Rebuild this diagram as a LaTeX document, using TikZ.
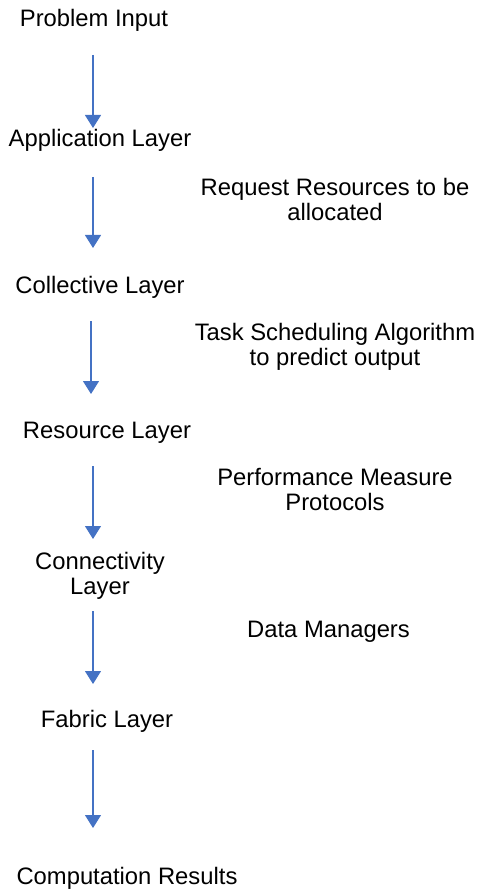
\documentclass[tikz,border=0pt]{standalone}
\usepackage{fontspec}
\setmainfont{Liberation Sans}
\usetikzlibrary{arrows.meta,calc}
\definecolor{arrowblue}{HTML}{4472C4}
\begin{document}
\begin{tikzpicture}[x=1pt,y=-1pt,
  lbl/.style={inner sep=0pt,anchor=base,align=center,font=\fontsize{23.8}{25}\selectfont},
  arr/.style={draw=arrowblue,line width=1.1pt,-{Triangle[width=16pt,length=13pt,fill=arrowblue]}}]
\useasboundingbox (0,0) rectangle (478,890);
\coordinate (ax) at (93,0);
\node[lbl] (pi)  at (94,27)  {Problem Input};
\node[lbl] (app) at (100,147) {Application Layer};
\node[lbl] (req) at (335,221) {Request Resources to be\\allocated};
\node[lbl] (col) at (100,293) {Collective Layer};
\node[lbl] (tsk) at (335,365) {Task Scheduling Algorithm\\to predict output};
\node[lbl] (res) at (107,438) {Resource Layer};
\node[lbl] (prf) at (335,510) {Performance Measure\\Protocols};
\node[lbl] (con) at (100,594) {Connectivity\\Layer};
\node[lbl] (dat) at (328.5,637) {Data Managers};
\node[lbl] (fab) at (107,727) {Fabric Layer};
\node[lbl] (cmp) at (127,884) {Computation Results};
\draw[arr] ($(pi.base -| ax)+(0,28)$) -- ($(app.base -| ax)+(0,-19)$);
\draw[arr] ($(app.base -| ax)+(0,30)$) -- ($(col.base -| ax)+(0,-45)$);
\draw[arr] ($(col.base -| ax)+(-2,28)$) -- ($(res.base -| ax)+(-2,-44)$);
\draw[arr] ($(res.base -| ax)+(0,28)$) -- ($(con.base -| ax)+(0,-55)$);
\draw[arr] ($(con.base -| ax)+(0,17)$) -- ($(fab.base -| ax)+(0,-43)$);
\draw[arr] ($(fab.base -| ax)+(0,23)$) -- ($(cmp.base -| ax)+(0,-56)$);
\end{tikzpicture}
\end{document}
